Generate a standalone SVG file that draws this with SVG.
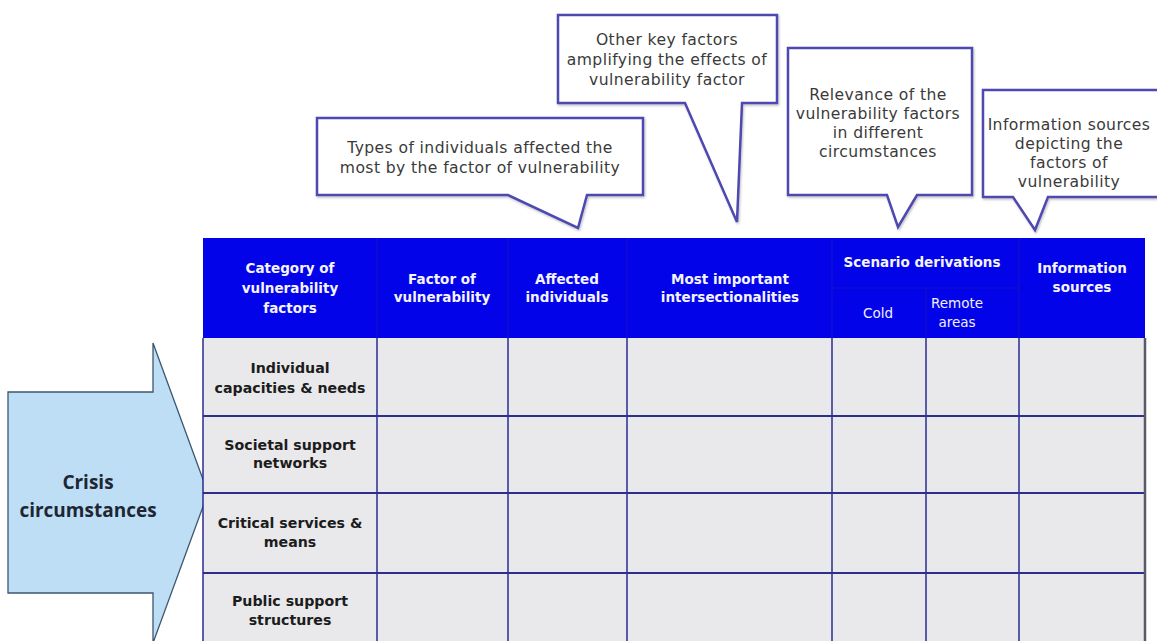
<svg xmlns="http://www.w3.org/2000/svg" width="1157" height="641" viewBox="0 0 1157 641">
<style>
.callout{fill:#ffffff;stroke:#4d48b0;stroke-width:2.5;stroke-linejoin:miter}
.ct{font-family:"DejaVu Sans","Open Sans",sans-serif;font-size:15.6px;letter-spacing:0.4px;fill:#3a3a3a;text-anchor:middle}
.hd{font-family:"DejaVu Sans","Open Sans",sans-serif;font-size:13.5px;font-weight:700;fill:#f4f4ff;text-anchor:middle}
.hs{font-family:"DejaVu Sans","Open Sans",sans-serif;font-size:13.5px;font-weight:400;fill:#f0f0ff;text-anchor:middle}
.rl{font-family:"DejaVu Sans","Open Sans",sans-serif;font-size:14.2px;font-weight:700;fill:#1c1c1c;text-anchor:middle}
.cell{fill:#e9e9eb}
.grid{stroke:#2b2b95;stroke-width:1.5;fill:none}
.hgrid{stroke:#2e2e8c;stroke-width:2.2;fill:none}
.hsep{stroke:#1414c0;stroke-width:1;fill:none}
</style>
<defs>
<filter id="sh" x="-5%" y="-5%" width="110%" height="115%">
<feDropShadow dx="1" dy="1.5" stdDeviation="1.2" flood-color="#000" flood-opacity="0.25"/>
</filter>
</defs>
<rect width="1157" height="641" fill="#ffffff"/>

<g id="arrow">
<path d="M8,392 H153 V343 L208,493 L153,643 V593 H8 Z" fill="#bedef6" stroke="#3d5670" stroke-width="1.3"/>
<text x="88" y="489" font-family="Open Sans, Liberation Sans, sans-serif" font-size="19" font-weight="700" fill="#1e2633" text-anchor="middle">Crisis</text>
<text x="88" y="517" font-family="Open Sans, Liberation Sans, sans-serif" font-size="19" font-weight="700" fill="#1e2633" text-anchor="middle">circumstances</text>
</g>

<g id="table">
<rect x="203" y="238" width="942" height="100" fill="#0303ea"/>
<rect class="cell" x="203" y="338" width="942" height="310"/>
<g id="header-separators">
<path class="hsep" d="M377,238 V338 M508,238 V338 M627,238 V338 M832,238 V338 M1019,238 V338 M926,288 V338 M832,288 H1019"/>
</g>
<g id="grid">
<path class="grid" d="M203,338 V641 M377,338 V641 M508,338 V641 M627,338 V641 M832,338 V641 M926,338 V641 M1019,338 V641"/>
<path class="hgrid" d="M203,416 H1145 M203,493 H1145 M203,573 H1145"/>
<path d="M1145,338 V641" stroke="#5a5a66" stroke-width="2.5"/>
</g>
<g id="header-text">
<text class="hd" x="290" y="273">Category of</text>
<text class="hd" x="290" y="293">vulnerability</text>
<text class="hd" x="290" y="313">factors</text>
<text class="hd" x="442" y="284">Factor of</text>
<text class="hd" x="442" y="302">vulnerability</text>
<text class="hd" x="567" y="284">Affected</text>
<text class="hd" x="567" y="302">individuals</text>
<text class="hd" x="730" y="284">Most important</text>
<text class="hd" x="730" y="302">intersectionalities</text>
<text class="hd" x="922" y="267">Scenario derivations</text>
<text class="hs" x="878" y="318">Cold</text>
<text class="hs" x="957" y="308">Remote</text>
<text class="hs" x="957" y="327">areas</text>
<text class="hd" x="1082" y="273">Information</text>
<text class="hd" x="1082" y="292">sources</text>
</g>
<g id="row-labels">
<text class="rl" x="290" y="373">Individual</text>
<text class="rl" x="290" y="393">capacities &amp; needs</text>
<text class="rl" x="290" y="450">Societal support</text>
<text class="rl" x="290" y="468">networks</text>
<text class="rl" x="290" y="528">Critical services &amp;</text>
<text class="rl" x="290" y="547">means</text>
<text class="rl" x="290" y="606">Public support</text>
<text class="rl" x="290" y="625">structures</text>
</g>
</g>

<g id="callout-types">
<path class="callout" filter="url(#sh)" d="M317,118 H643 V195 H587 L578,228 L508,195 H317 Z"/>
<text class="ct" x="480" y="153">Types of individuals affected the</text>
<text class="ct" x="480" y="173">most by the factor of vulnerability</text>
</g>
<g id="callout-other">
<path class="callout" filter="url(#sh)" d="M558,15 H777 V103 H742 L737,222 L685,103 H558 Z"/>
<text class="ct" x="667" y="45">Other key factors</text>
<text class="ct" x="667" y="65">amplifying the effects of</text>
<text class="ct" x="667" y="85">vulnerability factor</text>
</g>
<g id="callout-relevance">
<path class="callout" filter="url(#sh)" d="M788,48 H972 V195 H917 L898,227 L887,195 H788 Z"/>
<text class="ct" x="878" y="100">Relevance of the</text>
<text class="ct" x="878" y="119">vulnerability factors</text>
<text class="ct" x="878" y="138">in different</text>
<text class="ct" x="878" y="157">circumstances</text>
</g>
<g id="callout-info">
<path class="callout" filter="url(#sh)" d="M983,90 H1162 V197 H1048 L1035,230 L1013,197 H983 Z"/>
<text class="ct" x="1069" y="130">Information sources</text>
<text class="ct" x="1069" y="149">depicting the</text>
<text class="ct" x="1069" y="168">factors of</text>
<text class="ct" x="1069" y="187">vulnerability</text>
</g>
<g id="connectors"></g>
</svg>
